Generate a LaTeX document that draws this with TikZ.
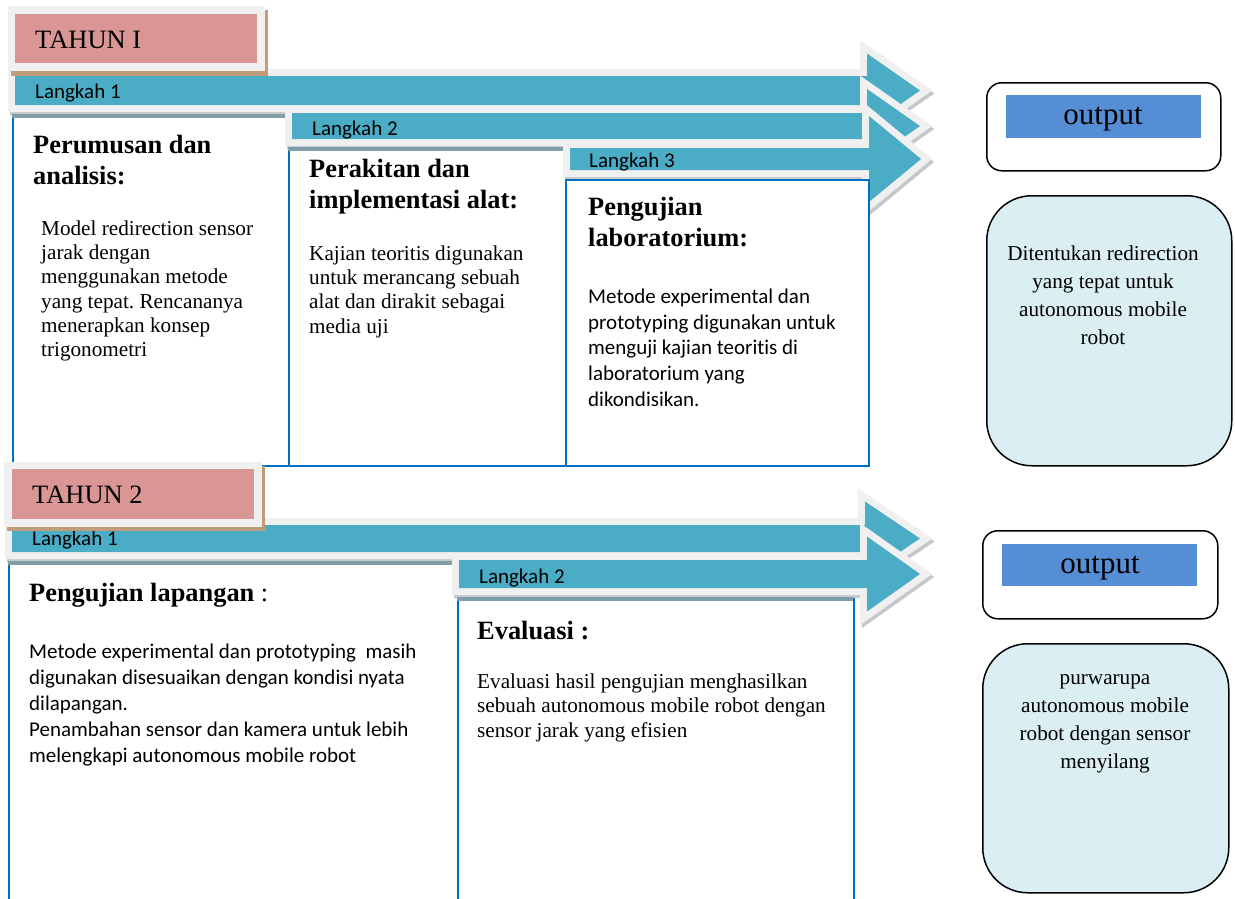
\documentclass[tikz,border=0pt]{standalone}
\usepackage{fontspec}
\setmainfont{Liberation Serif}
\newfontfamily\calibri[Ligatures=NoCommon]{Carlito}
\frenchspacing
\definecolor{tealA}{RGB}{75,172,198}
\definecolor{frameG}{RGB}{240,240,240}
\definecolor{shadowG}{RGB}{196,200,202}
\definecolor{pinkBox}{RGB}{217,150,148}
\definecolor{brownSh}{RGB}{192,156,122}
\definecolor{boxBlue}{RGB}{0,112,192}
\definecolor{outBlue}{RGB}{85,142,213}
\definecolor{lightBlue}{RGB}{218,238,243}
\definecolor{stripG}{RGB}{128,158,170}
\newcommand\arrowpath[6]{(#1,#2) -- (#4,#2) -- (#4,{(#2+#3)/2-#5}) -- (#6,{(#2+#3)/2}) -- (#4,{(#2+#3)/2+#5}) -- (#4,#3) -- (#1,#3) -- cycle}
\newcommand\bigarrow[6]{%
  \path[fill=shadowG, draw=shadowG, line width=14pt, line join=miter, shift={(2,3)}] \arrowpath{#1}{#2}{#3}{#4}{#5}{#6};
  \path[draw=frameG, line width=14pt, line join=miter] \arrowpath{#1}{#2}{#3}{#4}{#5}{#6};
  \path[fill=tealA] \arrowpath{#1}{#2}{#3}{#4}{#5}{#6};}
\newcommand\stripline[3]{\fill[stripG] (#1,#3-1) rectangle (#2,#3+3);}
\begin{document}
\begin{tikzpicture}[x=1pt,y=-1pt,
  stepbox/.style={fill=white, draw=boxBlue, line width=1.6pt, anchor=north west, inner sep=0},
  txt/.style={anchor=north west, inner sep=0, align=left},
  ctxt/.style={anchor=north, inner sep=0, align=center},
  serifbody/.style={font=\fontsize{21.2}{24.3}\selectfont},
  sansbody/.style={font=\calibri\fontsize{21}{25.8}\selectfont},
  headfont/.style={font=\bfseries\fontsize{26.4}{31}\selectfont},
  langkah/.style={anchor=base west, inner sep=0, font=\calibri\fontsize{21}{24}\selectfont},
  tahunlbl/.style={anchor=base west, inner sep=0, font=\fontsize{26.5}{30}\selectfont},
  outlbl/.style={anchor=base, inner sep=0, font=\fontsize{31}{36}\selectfont},
  outframe/.style={draw=black, fill=white, line width=1.5pt, rounded corners=15pt, anchor=north west, inner sep=0},
  outbar/.style={fill=outBlue, anchor=north west, inner sep=0},
  resbox/.style={draw=black, fill=lightBlue, line width=1.5pt, rounded corners=45pt, anchor=north west, inner sep=0}]
\useasboundingbox (0,0) rectangle (1235,898);
\fill[white] (0,0) rectangle (1235,898);

% ---------------- TAHUN I ----------------
\bigarrow{15}{76}{105}{867}{37}{920}
\node[stepbox, minimum width=276pt, minimum height=350pt] (t1) at (12,115) {};
\stripline{12}{288}{115}
\bigarrow{292}{113}{139}{867}{37}{920}
\node[stepbox, minimum width=277pt, minimum height=317pt] (t2) at (288,148) {};
\stripline{288}{565}{148}
\bigarrow{570}{148}{170}{869}{43}{921}
\node[stepbox, minimum width=303pt, minimum height=286pt] (t3) at (565,179) {};

\node[langkah] (l1) at (35,98) {Langkah 1};
\node[langkah] (l2) at (312,135) {Langkah 2};
\node[langkah] (l3) at (589,167) {Langkah 3};

\node[txt, headfont] (h1) at (33,131.3) {\strut Perumusan dan\\analisis:};
\node[txt, serifbody] (p1) at (41,218) {\strut Model redirection sensor\\jarak dengan\\menggunakan metode\\yang tepat. Rencananya\\menerapkan konsep\\trigonometri};
\node[txt, headfont] (h2) at (309,155.3) {\strut Perakitan dan\\implementasi alat:};
\node[txt, serifbody] (p2) at (309,243) {\strut Kajian teoritis digunakan\\untuk merancang sebuah\\alat dan dirakit sebagai\\media uji};
\node[txt, headfont] (h3) at (588,193.3) {\strut Pengujian\\laboratorium:};
\node[txt, sansbody] (p3) at (588,285) {\strut Metode experimental dan\\prototyping digunakan untuk\\menguji kajian teoritis di\\laboratorium yang\\dikondisikan.};

\fill[brownSh] (11,10) rectangle (268,76);
\node[fill=frameG, anchor=north west, inner sep=0, minimum width=257pt, minimum height=65pt] (y1f) at (8,6) {};
\node[fill=pinkBox, anchor=north west, inner sep=0, minimum width=242pt, minimum height=49pt] (y1) at (15,14) {};
\node[tahunlbl] (y1t) at (35,48) {TAHUN I};

\node[outframe, minimum width=234pt, minimum height=88pt] (o1) at (986,82) {};
\node[outbar, minimum width=195pt, minimum height=43pt] (o1b) at (1006,95) {};
\node[outlbl] (o1t) at (1103,124) {output};
\node[resbox, minimum width=245pt, minimum height=270pt] (r1) at (986,195) {};
\node[ctxt, font=\fontsize{21.2}{28.2}\selectfont] (r1t) at (1103,240.3) {\strut Ditentukan redirection\\yang tepat untuk\\autonomous mobile\\robot};

% ---------------- TAHUN 2 ----------------
\bigarrow{12}{525}{552}{865}{37}{920}
\node[stepbox, minimum width=449pt, minimum height=350pt] (b1) at (8,562) {};
\stripline{8}{457}{562}
\bigarrow{459}{560}{588}{867}{37.5}{920}
\node[stepbox, minimum width=396pt, minimum height=320pt] (b2) at (457,598) {};
\stripline{457}{853}{598}

\node[langkah] (bl1) at (32,545) {Langkah 1};
\node[langkah] (bl2) at (479,583) {Langkah 2};

\node[txt, font=\fontsize{26.4}{31}\selectfont] (bh1) at (29,579.3) {\strut\textbf{Pengujian lapangan} :};
\node[txt, font=\calibri\fontsize{21}{26}\selectfont] (bp1) at (29,639.8) {\strut Metode experimental dan prototyping~ masih\\digunakan disesuaikan dengan kondisi nyata\\dilapangan.\\Penambahan sensor dan kamera untuk lebih\\melengkapi autonomous mobile robot};
\node[txt, headfont] (bh2) at (477,617.3) {\strut Evaluasi :};
\node[txt, font=\fontsize{21.2}{24.5}\selectfont] (bp2) at (477,670.9) {\strut Evaluasi hasil pengujian menghasilkan\\sebuah autonomous mobile robot dengan\\sensor jarak yang efisien};

\fill[brownSh] (7,466) rectangle (265,531);
\node[fill=frameG, anchor=north west, inner sep=0, minimum width=258pt, minimum height=65pt] (y2f) at (4,462) {};
\node[fill=pinkBox, anchor=north west, inner sep=0, minimum width=242pt, minimum height=50pt] (y2) at (12,469) {};
\node[tahunlbl] (y2t) at (32,503) {TAHUN 2};

\node[outframe, minimum width=235pt, minimum height=88pt] (o2) at (982,530) {};
\node[outbar, minimum width=195pt, minimum height=42pt] (o2b) at (1002,544) {};
\node[outlbl] (o2t) at (1100,573) {output};
\node[resbox, minimum width=246pt, minimum height=249pt] (r2) at (982,643) {};
\node[ctxt, font=\fontsize{21.2}{28.2}\selectfont] (r2t) at (1105,664.3) {\strut purwarupa\\autonomous mobile\\robot dengan sensor\\menyilang};
\end{tikzpicture}
\end{document}
